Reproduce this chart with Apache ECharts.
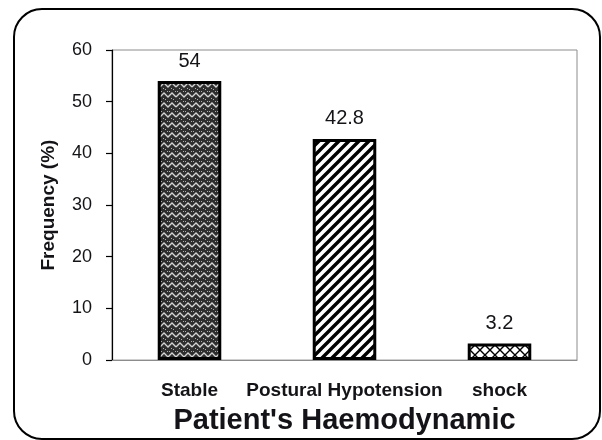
<!DOCTYPE html>
<html>
<head>
<meta charset="utf-8">
<script src="https://cdn.jsdelivr.net/npm/echarts@6/dist/echarts.min.js"></script>
<style>
  html, body { margin: 0; padding: 0; background: #fff; }
  #chart { width: 602px; height: 440px; }
</style>
</head>
<body>
<div id="chart"></div>
<script>
// Haemodynamic status of patients, frequency in percent
const categories = ['Stable', 'Postural Hypotension', 'shock'];
const frequency = [54, 42.8, 3.2];
const yMin = 0;
const yMax = 60;
const yStep = 10;

// Small canvas tiles used as fill patterns for the bars
function makeTile(w, h, draw) {
  const c = document.createElement('canvas');
  c.width = w;
  c.height = h;
  const g = c.getContext('2d');
  draw(g, w, h);
  return c;
}

// dense dark weave
const weaveTile = makeTile(16, 10, function (g, w, h) {
  g.fillStyle = '#2e2e2e';
  g.fillRect(0, 0, w, h);
  g.strokeStyle = '#d4d4d4';
  g.lineWidth = 1.3;
  g.beginPath();
  g.moveTo(0, 7); g.lineTo(4, 3); g.lineTo(8, 7); g.lineTo(12, 3); g.lineTo(16, 7);
  g.stroke();
  g.fillStyle = '#b0b0b0';
  g.fillRect(3, 8, 1, 1); g.fillRect(11, 8, 1, 1);
  g.fillRect(7, 1, 1, 1); g.fillRect(15, 1, 1, 1);
  g.fillRect(1, 1, 1, 1); g.fillRect(9, 1, 1, 1);
  g.fillRect(5, 9, 1, 1); g.fillRect(13, 9, 1, 1);
});

// bold forward diagonal stripes
const stripeTile = makeTile(10, 10, function (g, w, h) {
  g.fillStyle = '#ffffff';
  g.fillRect(0, 0, w, h);
  g.strokeStyle = '#000000';
  g.lineWidth = 3.4;
  g.beginPath();
  g.moveTo(-2, 12); g.lineTo(12, -2);
  g.moveTo(-2, 2); g.lineTo(2, -2);
  g.moveTo(8, 12); g.lineTo(12, 8);
  g.stroke();
});

// thin diagonal cross-hatch
const crossTile = makeTile(10, 10, function (g, w, h) {
  g.fillStyle = '#ffffff';
  g.fillRect(0, 0, w, h);
  g.strokeStyle = '#000000';
  g.lineWidth = 1.4;
  g.beginPath();
  g.moveTo(-1, -1); g.lineTo(11, 11);
  g.moveTo(-1, 11); g.lineTo(11, -1);
  g.stroke();
});

const fills = [weaveTile, stripeTile, crossTile].map(function (t) {
  return { image: t, repeat: 'repeat' };
});

const font = "'Liberation Sans', Arial, Helvetica, sans-serif";
const ink = '#141418';

const chart = echarts.init(document.getElementById('chart'), null, { renderer: 'canvas' });

chart.setOption({
  backgroundColor: '#ffffff',
  animation: false,
  grid: {
    left: 112, right: 25, top: 50, bottom: 73,
    show: true, borderColor: '#8c8c8c', borderWidth: 1, backgroundColor: 'transparent'
  },
  graphic: [{
    type: 'rect',
    shape: { x: 14, y: 9, width: 586, height: 430, r: 28 },
    style: { fill: 'none', stroke: '#000', lineWidth: 2 },
    z: 100,
    silent: true
  }],
  xAxis: {
    type: 'category',
    data: categories,
    name: "Patient's Haemodynamic",
    nameLocation: 'middle',
    nameGap: 42,
    nameTextStyle: { fontFamily: font, fontWeight: 'bold', fontSize: 29, color: ink, lineHeight: 29 },
    axisLine: { lineStyle: { color: '#8c8c8c', width: 1 } },
    axisTick: { show: false },
    axisLabel: {
      interval: 0, hideOverlap: false,
      margin: 21, fontFamily: font, fontWeight: 'bold', fontSize: 19, color: ink, lineHeight: 20
    },
    splitLine: { show: false }
  },
  yAxis: {
    type: 'value',
    min: yMin, max: yMax, interval: yStep,
    name: 'Frequency (%)',
    nameLocation: 'middle',
    nameGap: 54,
    nameTextStyle: { fontFamily: font, fontWeight: 'bold', fontSize: 19, color: ink },
    axisLine: { show: true, lineStyle: { color: '#000', width: 1.2 } },
    axisTick: { show: true, length: 6, lineStyle: { color: '#000', width: 1.2 } },
    axisLabel: { margin: 20, fontFamily: font, fontSize: 18, color: ink },
    splitLine: { show: false }
  },
  series: [{
    type: 'bar',
    barCategoryGap: '59%',
    data: frequency.map(function (v, i) {
      return { value: v, itemStyle: { color: fills[i] } };
    }),
    itemStyle: { borderColor: '#000', borderWidth: 3 },
    label: {
      show: true, position: 'top', distance: 10,
      fontFamily: font, fontSize: 20, color: ink,
      formatter: function (p) { return String(p.value); }
    }
  }]
});
</script>
</body>
</html>
